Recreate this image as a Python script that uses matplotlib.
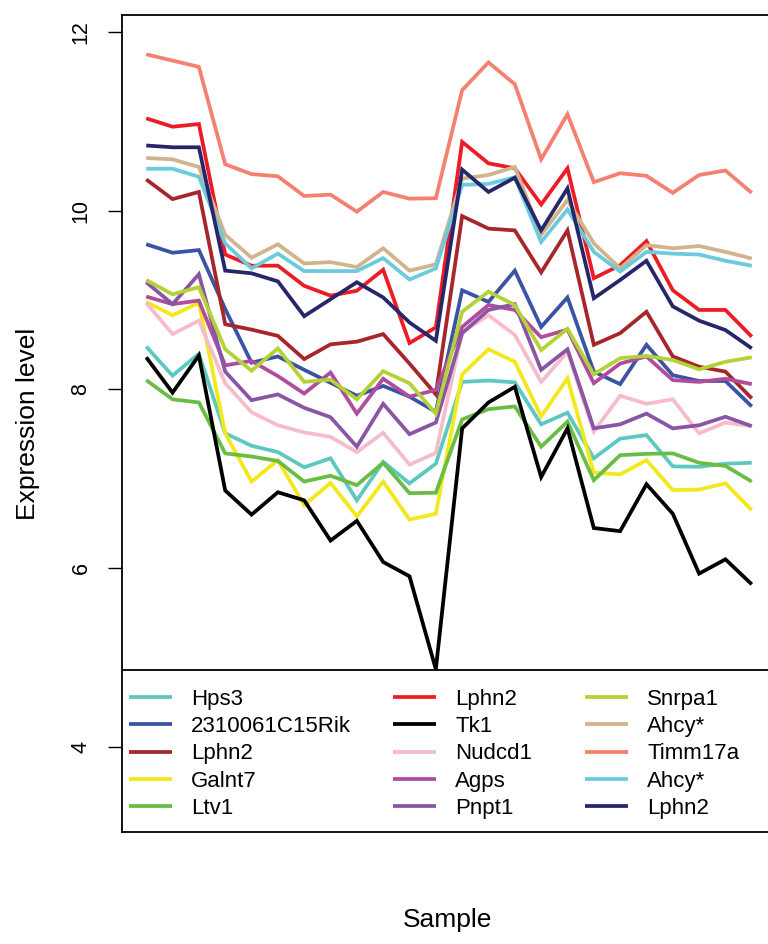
import matplotlib
matplotlib.use("Agg")
import matplotlib.pyplot as plt
from matplotlib.legend import Legend
from matplotlib.patches import Rectangle
import numpy as np

plt.rcParams['font.family'] = ['Liberation Sans', 'DejaVu Sans']

samples = list(range(1, 25))

genes = ["Hps3", "2310061C15Rik", "Lphn2", "Galnt7", "Ltv1",
         "Lphn2", "Tk1", "Nudcd1", "Agps", "Pnpt1",
         "Snrpa1", "Ahcy*", "Timm17a", "Ahcy*", "Lphn2"]

colors = ["#5CC8C0", "#3A53A4", "#A6262B", "#F2E81C", "#69BD45",
          "#ED1C24", "#000000", "#F7BCCB", "#B04C9E", "#8B55A6",
          "#B3D235", "#D1B38C", "#F4806F", "#6BCBDD", "#26266B"]

hps3 = [8.48, 8.155, 8.40, 7.51, 7.37, 7.30, 7.13, 7.23, 6.76, 7.19, 6.95, 7.17,
        8.085, 8.10, 8.08, 7.61, 7.74, 7.23, 7.45, 7.49, 7.14, 7.135, 7.17, 7.18]
rik = [9.625, 9.53, 9.56, 8.90, 8.30, 8.37, 8.22, 8.075, 7.93, 8.04, 7.92, 7.75,
       9.11, 8.98, 9.33, 8.70, 9.03, 8.20, 8.06, 8.50, 8.16, 8.095, 8.095, 7.81]
lphn2_brown = [10.35, 10.13, 10.21, 8.73, 8.67, 8.60, 8.34, 8.505, 8.535, 8.62, 8.29, 7.945,
               9.94, 9.80, 9.78, 9.31, 9.78, 8.50, 8.63, 8.87, 8.37, 8.255, 8.20, 7.90]
galnt7 = [8.98, 8.83, 8.97, 7.51, 6.97, 7.21, 6.705, 6.955, 6.58, 6.97, 6.545, 6.61,
          8.17, 8.45, 8.31, 7.70, 8.125, 7.07, 7.05, 7.21, 6.875, 6.88, 6.95, 6.65]
ltv1 = [8.105, 7.89, 7.855, 7.285, 7.25, 7.20, 6.97, 7.035, 6.93, 7.18, 6.84, 6.845,
        7.665, 7.78, 7.81, 7.36, 7.64, 6.985, 7.265, 7.28, 7.285, 7.18, 7.145, 6.97]
lphn2_red = [11.034, 10.94, 10.97, 9.51, 9.385, 9.385, 9.16, 9.05, 9.105, 9.34, 8.52, 8.695,
             10.77, 10.53, 10.475, 10.07, 10.475, 9.245, 9.39, 9.66, 9.11, 8.89, 8.89, 8.59]
tk1 = [8.36, 7.965, 8.38, 6.87, 6.60, 6.85, 6.76, 6.31, 6.53, 6.07, 5.91, 4.87,
       7.565, 7.855, 8.03, 7.02, 7.565, 6.45, 6.415, 6.94, 6.61, 5.94, 6.10, 5.82]
nudcd1 = [8.97, 8.62, 8.77, 8.07, 7.745, 7.60, 7.52, 7.47, 7.30, 7.515, 7.16, 7.29,
          8.645, 8.83, 8.61, 8.085, 8.42, 7.53, 7.93, 7.84, 7.89, 7.51, 7.63, 7.59]
agps = [9.04, 8.955, 8.995, 8.27, 8.32, 8.15, 7.955, 8.19, 7.73, 8.12, 7.92, 7.995,
        8.70, 8.945, 8.89, 8.585, 8.67, 8.07, 8.29, 8.37, 8.105, 8.085, 8.12, 8.06]
pnpt1 = [9.20, 8.955, 9.29, 8.20, 7.88, 7.945, 7.795, 7.69, 7.36, 7.84, 7.50, 7.63,
         8.63, 8.89, 8.955, 8.22, 8.45, 7.565, 7.61, 7.73, 7.565, 7.60, 7.695, 7.59]
snrpa1 = [9.225, 9.065, 9.145, 8.45, 8.21, 8.46, 8.085, 8.11, 7.89, 8.205, 8.07, 7.73,
          8.87, 9.095, 8.945, 8.44, 8.68, 8.17, 8.35, 8.375, 8.33, 8.225, 8.31, 8.36]
ahcy_tan = [10.59, 10.575, 10.49, 9.73, 9.475, 9.625, 9.41, 9.425, 9.37, 9.58, 9.33, 9.40,
            10.36, 10.40, 10.49, 9.73, 10.12, 9.635, 9.355, 9.615, 9.58, 9.605, 9.54, 9.465]
timm17a = [11.75, 11.68, 11.61, 10.52, 10.41, 10.385, 10.165, 10.18, 9.99, 10.21, 10.135, 10.14,
           11.35, 11.66, 11.415, 10.575, 11.08, 10.32, 10.42, 10.39, 10.20, 10.40, 10.45, 10.20]
ahcy_cyan = [10.47, 10.47, 10.38, 9.635, 9.355, 9.52, 9.325, 9.325, 9.325, 9.47, 9.23, 9.355,
             10.29, 10.30, 10.375, 9.65, 10.015, 9.54, 9.32, 9.54, 9.52, 9.51, 9.44, 9.385]
lphn2_navy = [10.73, 10.71, 10.71, 9.33, 9.30, 9.21, 8.82, 9.01, 9.20, 9.03, 8.75, 8.545,
              10.46, 10.21, 10.37, 9.78, 10.25, 9.02, 9.225, 9.44, 8.93, 8.77, 8.665, 8.46]

series = [hps3, rik, lphn2_brown, galnt7, ltv1,
          lphn2_red, tk1, nudcd1, agps, pnpt1,
          snrpa1, ahcy_tan, timm17a, ahcy_cyan, lphn2_navy]

W, H = 768, 944
fig = plt.figure(figsize=(W / 100, H / 100), dpi=100)
ax_l, ax_r, ax_t, ax_b = 122, 776, 15, 832
ax = fig.add_axes([ax_l / W, 1 - ax_b / H, (ax_r - ax_l) / W, (ax_b - ax_t) / H])

handles = []
for vals, col in zip(series, colors):
    ln, = ax.plot(samples, vals, color=col, lw=2.7, solid_joinstyle='miter',
                  solid_capstyle='butt')
    handles.append(ln)

ax.set_xlim(0.08, 24.92)
ax.set_ylim(3.049, 12.19)
ax.set_xticks([])
ax.set_yticks([4, 6, 8, 10, 12])
ax.set_yticklabels(["4", "6", "8", "10", "12"], rotation=90, va='center')
ax.tick_params(axis='y', length=10, width=1.0, pad=12, labelsize=15.5)
for s in ax.spines.values():
    s.set_linewidth(1.3)

ax.set_ylabel("Expression level", fontsize=19)
ax.yaxis.set_label_coords((28 - ax_l) / (ax_r - ax_l), 0.5)
ax.yaxis.label.set_va('center')
ax.set_xlabel("Sample", fontsize=19)
ax.xaxis.set_label_coords((448 - ax_l) / (ax_r - ax_l), -(920 - ax_b) / (ax_b - ax_t))
ax.xaxis.label.set_va('center')

# legend frame
leg_top = 670
frame = Rectangle((0, 0), 1.0, (ax_b - leg_top) / (ax_b - ax_t), transform=ax.transAxes,
                  facecolor='white', edgecolor='black', lw=1.3, zorder=5)
ax.add_patch(frame)

col_x = [129, 393, 585]
fs = 16
for c in range(3):
    hs = handles[c * 5:(c + 1) * 5]
    labs = genes[c * 5:(c + 1) * 5]
    lg = Legend(ax, hs, labs, loc='upper left',
                bbox_to_anchor=(col_x[c] / W, 1 - 689 / H), bbox_transform=fig.transFigure,
                frameon=False, borderpad=0, borderaxespad=0, handlelength=1.94,
                handletextpad=0.86, labelspacing=0.28, fontsize=fs)
    lg.set_zorder(6)
    ax.add_artist(lg)

fig.savefig("out.png", dpi=100)
